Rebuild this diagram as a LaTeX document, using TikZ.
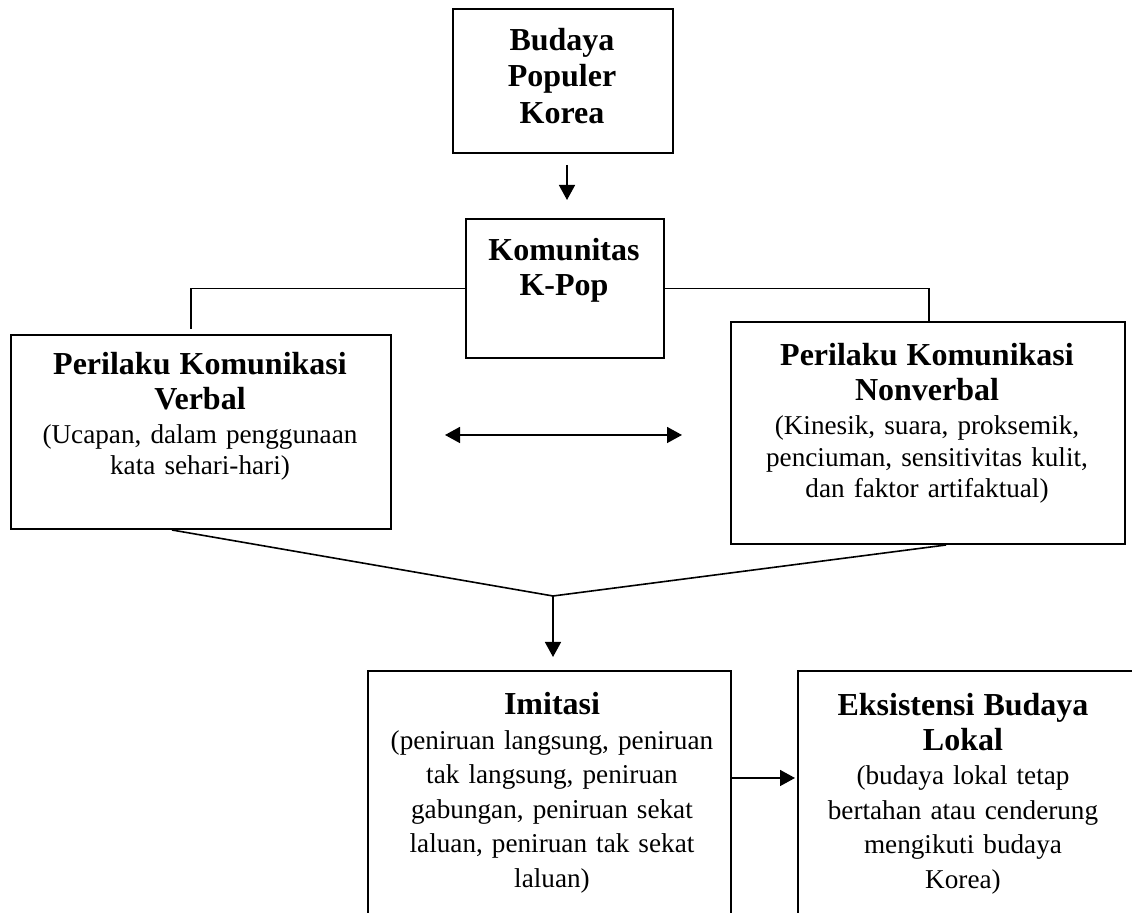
\documentclass[tikz,border=0pt]{standalone}
\usepackage{fontspec}
\setmainfont{Liberation Serif}
\usetikzlibrary{arrows.meta,calc}
\newcommand\hdf{\fontsize{16}{17.25}\selectfont\bfseries}
\newcommand\nmf{\fontsize{13.6}{17.25}\selectfont\mdseries}
\begin{document}
\begin{tikzpicture}[x=0.5pt,y=-0.5pt,
  box/.style={draw,line width=1pt,rectangle,inner sep=0pt,anchor=north west},
  txt/.style={anchor=north,inner sep=0pt,align=center,font=\nmf},
  conn/.style={line width=0.8pt},
  arr/.style={conn,-{Triangle[length=7.5pt,width=8pt]}},
  darr/.style={conn,{Triangle[length=7.5pt,width=8pt]}-{Triangle[length=7.5pt,width=8pt]}}
]
\useasboundingbox (0,0) rectangle (1132,913);
\clip (0,0) rectangle (1132,913);

% boxes
\node[box,minimum width=110pt,minimum height=72pt] (top) at (452,8) {};
\node[box,minimum width=99pt,minimum height=69.5pt] (kom) at (465,218) {};
\node[box,minimum width=190pt,minimum height=97pt] (verb) at (10,334) {};
\node[box,minimum width=197pt,minimum height=111pt] (nonv) at (730,321) {};
\node[box,minimum width=181.5pt,minimum height=150pt] (imit) at (367,670) {};
\node[box,minimum width=180pt,minimum height=150pt] (eks) at (797,670) {};

% texts
\node[txt,text width=105pt] (tTop) at (562,28) {\hdf Budaya\\[0.9pt]Populer\\[0.9pt]Korea};
\node[txt,text width=95pt] (tKom) at (564,238) {\hdf Komunitas\\K-Pop};
\node[txt,text width=185pt] (tVerb) at (200,352) {\hdf Perilaku Komunikasi\\Verbal\\\nmf (Ucapan, dalam penggunaan\\[-2pt]kata sehari-hari)};
\node[txt,text width=192pt] (tNonv) at (927,343) {\hdf Perilaku Komunikasi\\Nonverbal\\\nmf (Kinesik, suara, proksemik,\\[-1.5pt]penciuman, sensitivitas kulit,\\[-1.5pt]dan faktor artifaktual)};
\node[txt,text width=178pt] (tImit) at (552,692) {\hdf Imitasi\\\nmf (peniruan langsung, peniruan\\tak langsung, peniruan\\gabungan, peniruan sekat\\laluan, peniruan tak sekat\\laluan)};
\node[txt,text width=165pt] (tEks) at (963,693) {\hdf Eksistensi Budaya\\Lokal\\\nmf (budaya lokal tetap\\bertahan atau cenderung\\mengikuti budaya\\Korea)};

% connectors
\draw[arr] ($(top.south)+(4,11)$) -- ($(kom.north)+(2,-18)$);
\draw[conn] (kom.west) -| ($(verb.north west)+(181,-5)$);
\draw[conn] (kom.east) -| ($(nonv.north west)+(199,0)$);
\draw[darr] ($(verb.east)+(53,3)$) -- ($(nonv.west)+(-48,2)$);
\coordinate (m) at ($(imit.north)+(3.5,-74)$);
\draw[conn] ($(verb.south west)+(162,0)$) -- (m) -- ($(nonv.south west)+(216,0)$);
\draw[arr] (m) -- ($(imit.north)+(3.5,-13)$);
\draw[arr] ($(imit.north east)+(0,108)$) -- ($(eks.north west)+(-2,108)$);
\end{tikzpicture}
\end{document}
